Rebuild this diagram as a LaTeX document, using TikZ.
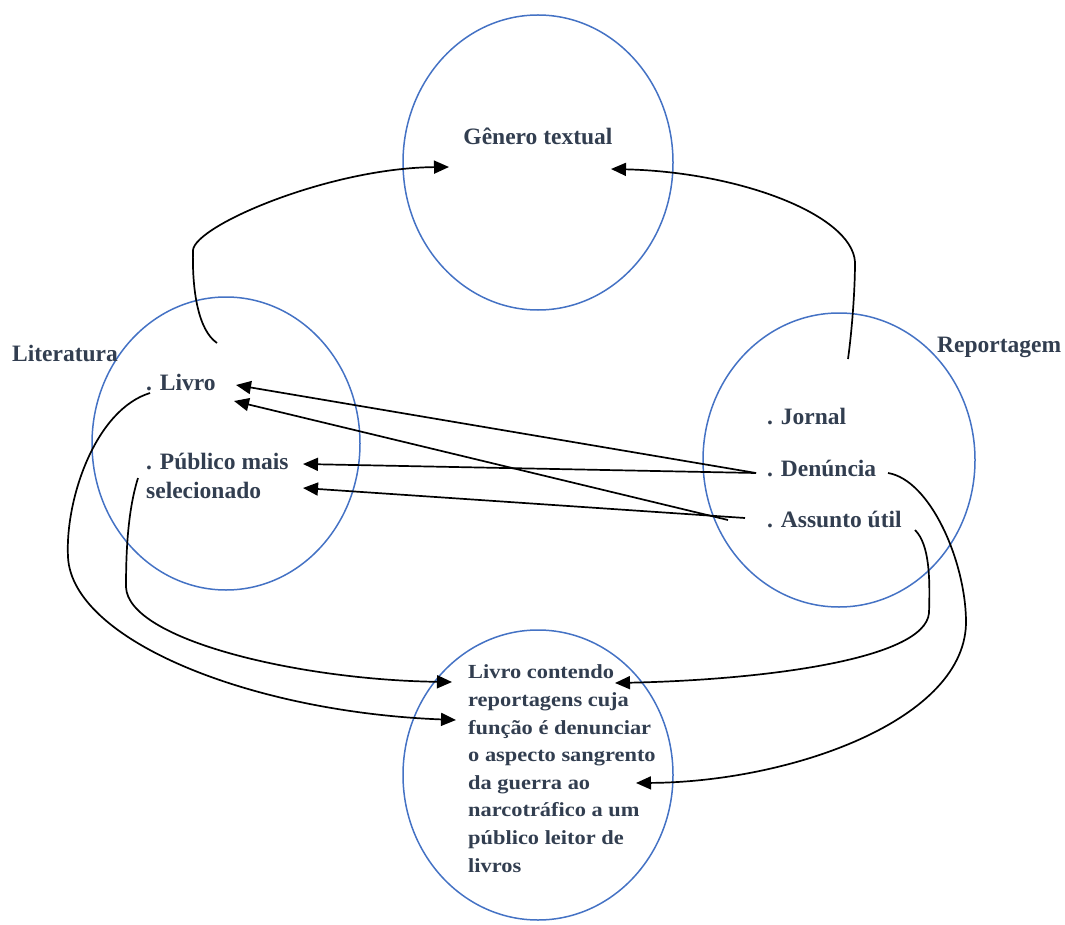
\documentclass[tikz,border=0pt]{standalone}
\usepackage{fontspec}
\setmainfont{Liberation Serif}
\newfontfamily\widefont[FakeStretch=1.12]{Liberation Serif}
\usetikzlibrary{arrows.meta,shapes.geometric}
\definecolor{ringblue}{RGB}{68,114,196}
\definecolor{inkslate}{RGB}{50,62,80}

\begin{document}
\begin{tikzpicture}[x=1pt,y=-1pt,
  ring/.style={draw=ringblue,line width=1.5pt,ellipse,inner sep=0pt},
  lbl/.style={inner sep=0pt,text=inkslate,anchor=base west,
    font=\fontsize{23.5}{29}\selectfont\bfseries},
  conn/.style={draw=black,line width=1.7pt,-{Triangle[length=15pt,width=13pt]}},
]
\useasboundingbox (0,0) rectangle (1065,925);

% the four rings
\node[ring,minimum width=270pt,minimum height=295pt] (genero) at (538,162.5) {};
\node[ring,minimum width=268pt,minimum height=293pt] (literatura) at (226,443.5) {};
\node[ring,minimum width=272pt,minimum height=294pt] (reportagem) at (839,460) {};
\node[ring,minimum width=270pt,minimum height=290pt] (resultado) at (538,775) {};

% labels
\node[lbl,anchor=base] (tGenero) at (538,145) {Gênero textual};
\node[lbl] (tLit) at (12,361) {Literatura};
\node[lbl] (tLivro) at (146,390) {. Livro};
\node[lbl] (tPub1) at (146,469) {. Público mais};
\node[lbl] (tPub2) at (146,498) {selecionado};
\node[lbl] (tRep) at (937,352) {Reportagem};
\node[lbl] (tJornal) at (767,424) {. Jornal};
\node[lbl] (tDen) at (767,476) {. Denúncia};
\node[lbl] (tAss) at (767,527) {. Assunto útil};
% the base of this block is the baseline of its last line
\node[lbl,align=left,font=\widefont\fontsize{20}{27.6}\selectfont\bfseries] (tRes) at (468,872)
  {Livro contendo\\reportagens cuja\\função é denunciar\\o aspecto sangrento\\da guerra ao\\narcotráfico a um\\público leitor de\\livros};

% connector ends
\coordinate (livroUp) at (217,343);
\coordinate (genL) at (449,167);
\coordinate (repUp) at (848,359);
\coordinate (genR) at (611,169);
\coordinate (denA) at (756,473);
\coordinate (assA) at (745,518);
\coordinate (assB) at (728,520);
\coordinate (livroIn1) at (236,385);
\coordinate (livroIn2) at (234,401);
\coordinate (pubIn1) at (303,464);
\coordinate (pubIn2) at (303,488);
\coordinate (livroDown) at (150,393);
\coordinate (pubDown) at (138,478);
\coordinate (denDown) at (888,473);
\coordinate (assDown) at (915,530);
\coordinate (resL1) at (452,682);
\coordinate (resL2) at (456,720);
\coordinate (resR1) at (615,683);
\coordinate (resR2) at (636,783);

% upward links to the genre
\draw[conn] (livroUp) .. controls (198,330) and (192,290) .. (193,250)
  .. controls (196,225) and (330,168) .. (genL);
\draw[conn] (repUp) .. controls (852,330) and (855,290) .. (855,262)
  .. controls (852,215) and (740,172) .. (genR);

% crossing links between the two sides
\draw[conn] (denA) -- (livroIn1);
\draw[conn] (assB) -- (livroIn2);
\draw[conn] (denA) -- (pubIn1);
\draw[conn] (assA) -- (pubIn2);

% links down to the result
\draw[conn] (livroDown) .. controls (95,410) and (65,500) .. (68,557)
  .. controls (72,640) and (250,712) .. (resL2);
\draw[conn] (pubDown) .. controls (128,510) and (126,550) .. (126,587)
  .. controls (128,640) and (300,680) .. (resL1);
\draw[conn] (assDown) .. controls (930,545) and (930,580) .. (929,613)
  .. controls (925,660) and (760,680) .. (resR1);
\draw[conn] (denDown) .. controls (930,480) and (965,560) .. (966,620)
  .. controls (968,720) and (790,782) .. (resR2);
\end{tikzpicture}
\end{document}
